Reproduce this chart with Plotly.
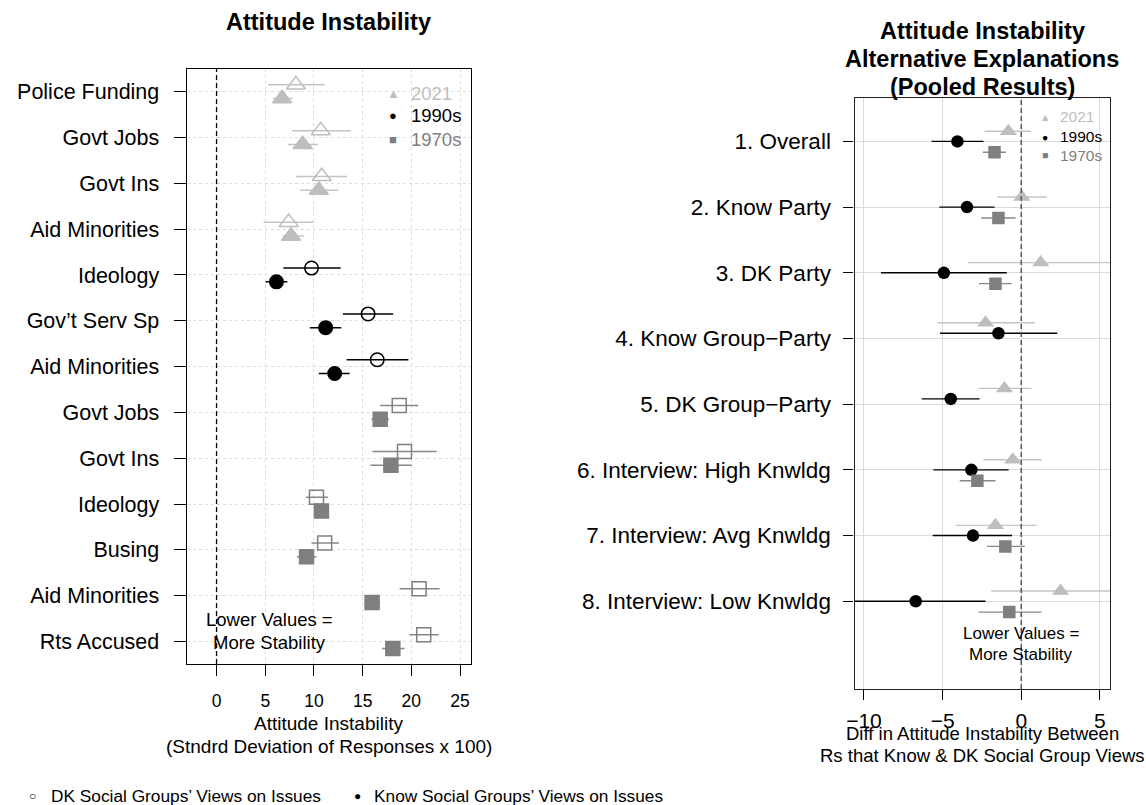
import plotly.graph_objects as go

W, H = 1146, 805
FONT = "Liberation Sans, Arial, Helvetica, sans-serif"

# ---------------- Left panel data ----------------
left_labels = ["Police Funding", "Govt Jobs", "Govt Ins", "Aid Minorities",
               "Ideology", "Gov\u2019t Serv Sp", "Aid Minorities",
               "Govt Jobs", "Govt Ins", "Ideology", "Busing", "Aid Minorities", "Rts Accused"]
left_era = ["2021"] * 4 + ["1990s"] * 3 + ["1970s"] * 6

# DK social groups' views (open markers)
dk_est = [8.15, 10.7, 10.8, 7.41, 9.75, 15.56, 16.5, 18.76, 19.3, 10.26, 11.1, 20.8, 21.27]
dk_lo = [5.27, 7.75, 8.15, 4.83, 6.86, 12.98, 13.35, 16.8, 16.0, 9.17, 9.75, 18.8, 19.8]
dk_hi = [11.1, 13.76, 13.4, 9.96, 12.74, 18.14, 19.7, 20.7, 22.6, 11.45, 12.57, 22.9, 22.8]

# Know social groups' views (filled markers)
know_est = [6.73, 8.84, 10.5, 7.65, 6.15, 11.2, 12.13, 16.8, 17.9, 10.77, 9.24, 15.97, 18.1]
know_lo = [5.78, 7.34, 8.6, 6.8, 5.03, 9.58, 10.5, 15.9, 15.8, 10.0, 8.26, 15.2, 17.0]
know_hi = [7.82, 10.4, 12.5, 9.0, 7.27, 12.8, 13.66, 17.7, 20.05, 11.55, 10.26, 16.8, 19.3]

# ---------------- Right panel data ----------------
right_labels = ["1. Overall", "2. Know Party", "3. DK Party", "4. Know Group\u2212Party",
                "5. DK Group\u2212Party", "6. Interview: High Knwldg",
                "7. Interview: Avg Knwldg", "8. Interview: Low Knwldg"]
r2021_est = [-0.82, 0.04, 1.24, -2.27, -1.07, -0.54, -1.64, 2.50]
r2021_lo = [-2.33, -1.53, -3.38, -5.34, -2.71, -2.40, -4.16, -1.91]
r2021_hi = [0.61, 1.62, 5.86, 0.88, 0.65, 1.31, 0.97, 6.91]
r1990_est = [-4.06, -3.45, -4.92, -1.45, -4.48, -3.17, -3.07, -6.71]
r1990_lo = [-5.70, -5.21, -8.92, -5.17, -6.33, -5.59, -5.63, -11.15]
r1990_hi = [-2.40, -1.70, -0.92, 2.29, -2.65, -0.80, -0.59, -2.27]
r1970_est = [-1.70, -1.45, -1.64, None, None, -2.79, -1.01, -0.76]
r1970_lo = [-2.44, -2.54, -2.69, None, None, -3.91, -2.18, -2.71]
r1970_hi = [-0.97, -0.36, -0.61, None, None, -1.64, 0.23, 1.29]

era_order = ["2021", "1990s", "1970s"]
era_color = {"2021": "#BEBEBE", "1990s": "#000000", "1970s": "#7F7F7F"}
era_bar_color = {"2021": "#C4C4C4", "1990s": "#000000", "1970s": "#888888"}
era_symbol = {"2021": "triangle-up", "1990s": "circle", "1970s": "square"}
left_size = {"2021": 16.5, "1990s": 13.5, "1970s": 14}
right_size = {"2021": 15, "1990s": 12.5, "1970s": 12.5}
REF_X = 0

fig = go.Figure()

# ---- left panel traces ----
for era in era_order:
    idx = [i for i, e in enumerate(left_era) if e == era]
    rows = [i + 1 for i in idx]
    for kind, est, lo, hi, off, sym_suffix in [
        ("DK", dk_est, dk_lo, dk_hi, -0.15, "-open"),
        ("Know", know_est, know_lo, know_hi, 0.15, ""),
    ]:
        xs = [est[i] for i in idx]
        plus = [hi[i] - est[i] for i in idx]
        minus = [est[i] - lo[i] for i in idx]
        fig.add_trace(go.Scatter(
            x=xs, y=[r + off for r in rows], mode="markers",
            xaxis="x", yaxis="y",
            marker=dict(symbol=era_symbol[era] + sym_suffix, size=left_size[era],
                        color=era_color[era], line=dict(width=1.5, color=era_color[era])),
            error_x=dict(type="data", symmetric=False, array=plus, arrayminus=minus,
                         width=0, thickness=1.5, color=era_bar_color[era]),
            showlegend=False, hoverinfo="skip"))

# ---- right panel traces ----
right_series = {
    "2021": (r2021_est, r2021_lo, r2021_hi),
    "1990s": (r1990_est, r1990_lo, r1990_hi),
    "1970s": (r1970_est, r1970_lo, r1970_hi),
}
offs3 = {"2021": -0.155, "1990s": 0.0, "1970s": 0.165}
offs2 = {"2021": -0.24, "1990s": -0.08, "1970s": 0.08}
for era in era_order:
    est, lo, hi = right_series[era]
    xs, ys, plus, minus = [], [], [], []
    for i in range(len(right_labels)):
        if est[i] is None:
            continue
        n = sum(1 for e in era_order if right_series[e][0][i] is not None)
        off = (offs3 if n == 3 else offs2)[era]
        xs.append(est[i])
        ys.append(i + 1 + off)
        plus.append(hi[i] - est[i])
        minus.append(est[i] - lo[i])
    fig.add_trace(go.Scatter(
        x=xs, y=ys, mode="markers", xaxis="x2", yaxis="y2",
        marker=dict(symbol=era_symbol[era], size=right_size[era], color=era_color[era]),
        error_x=dict(type="data", symmetric=False, array=plus, arrayminus=minus,
                     width=0, thickness=1.4, color=era_bar_color[era]),
        showlegend=False, hoverinfo="skip"))


def px(x):
    return x / W


def py(y):
    return 1 - y / H


axis_common = dict(showline=True, mirror=True, ticks="outside", zeroline=False,
                   showgrid=True, tickcolor="black")

fig.update_layout(
    width=W, height=H, margin=dict(l=0, r=0, t=0, b=0),
    paper_bgcolor="white", plot_bgcolor="white", showlegend=False,
    font=dict(family=FONT, color="black"),
    xaxis=dict(domain=[px(180), px(466)], range=[-3.06, 26.1], tick0=0, dtick=5,
               anchor="y", linecolor="black", linewidth=1.3, tickwidth=1.3, ticklen=11,
               gridcolor="#DDDDDD", griddash="dot", gridwidth=1,
               tickfont=dict(size=17.5), ticklabelstandoff=10, **axis_common),
    yaxis=dict(domain=[py(664), py(69)], range=[13.49, 0.505],
               tickvals=list(range(1, len(left_labels) + 1)), ticktext=left_labels,
               anchor="x", linecolor="black", linewidth=1.3, tickwidth=1.3, ticklen=12,
               gridcolor="#DDDDDD", griddash="dot", gridwidth=1,
               tickfont=dict(size=21.5), ticklabelstandoff=10, **axis_common),
    xaxis2=dict(domain=[px(852.5), px(1110)], range=[-10.6, 5.66], tick0=0, dtick=5,
                anchor="y2", linecolor="#222222", linewidth=1.3, tickwidth=1.2, ticklen=10,
                gridcolor="#DADADA", gridwidth=1,
                tickfont=dict(size=21), ticklabelstandoff=3, **axis_common),
    yaxis2=dict(domain=[py(689), py(98)], range=[9.336, 0.339],
                tickvals=list(range(1, len(right_labels) + 1)), ticktext=right_labels,
                anchor="x2", linecolor="#222222", linewidth=1.3, tickwidth=1.2, ticklen=10,
                gridcolor="#DADADA", gridwidth=1,
                tickfont=dict(size=22.5), ticklabelstandoff=8, **axis_common),
)

fig.add_shape(type="line", xref="x", yref="y domain", x0=REF_X, x1=REF_X, y0=0, y1=1,
              line=dict(color="black", width=1.3, dash="5px,3px"))
fig.add_shape(type="line", xref="x2", yref="y2 domain", x0=REF_X, x1=REF_X, y0=0, y1=1,
              line=dict(color="#555555", width=1.5, dash="5px,3px"))


def ann(text, x, y, size, color="black", xanchor="center", bold=False):
    if bold:
        text = "<b>" + text + "</b>"
    fig.add_annotation(text=text, x=px(x), y=py(y), xref="paper", yref="paper",
                       xanchor=xanchor, yanchor="middle", showarrow=False,
                       font=dict(size=size, color=color, family=FONT))


# titles
ann("Attitude Instability", 323, 22, 23.5, bold=True)
ann("Attitude Instability", 981, 31, 23.5, bold=True)
ann("Alternative Explanations", 981, 59, 23.5, bold=True)
ann("(Pooled Results)", 981, 87, 23.5, bold=True)

# axis titles
ann("Attitude Instability", 323, 723, 19)
ann("(Stndrd Deviation of Responses x 100)", 323, 746, 19)
ann("Diff in Attitude Instability Between", 981, 733, 18.5)
ann("Rs that Know & DK Social Group Views", 981, 755, 18.5)

# notes
ann("Lower Values =", 263, 619, 18.5)
ann("More Stability", 263, 642, 18.5)
ann("Lower Values =", 1020, 633, 17)
ann("More Stability", 1020, 654, 17)

# in-panel legends
glyph = {"2021": "\u25B2", "1990s": "\u25CF", "1970s": "\u25A0"}
for era, yl, yr in zip(era_order, [93.3, 115.7, 139.3], [116.7, 136.7, 155]):
    ann(glyph[era], 388, yl, 13, color=era_color[era])
    ann(era, 404, yl, 18.5, color=era_color[era], xanchor="left")
    ann(glyph[era], 1044.5, yr, 10.5, color=era_color[era])
    ann(era, 1057.5, yr, 15.5, color=era_color[era], xanchor="left")

# bottom legend
ann("\u25CB", 25, 796, 12)
ann("DK Social Groups\u2019 Views on Issues", 41, 796, 17.3, xanchor="left")
ann("\u25CF", 352, 796, 12)
ann("Know Social Groups\u2019 Views on Issues", 367, 796, 17.3, xanchor="left")

fig.write_html("out.html")
